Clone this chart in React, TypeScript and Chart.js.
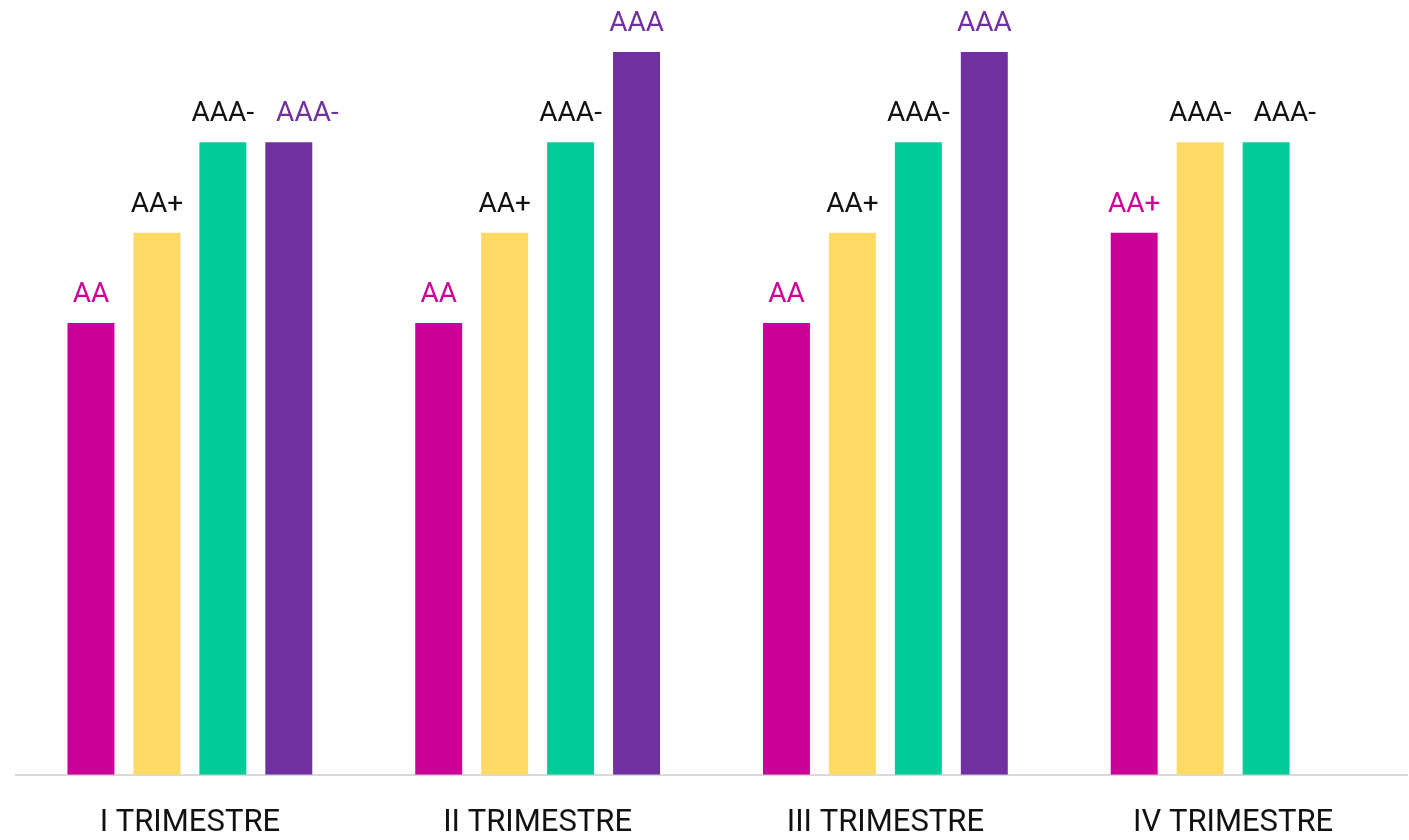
import React, { useEffect, useRef } from "react";
import { Chart, registerables } from "chart.js";

Chart.register(...registerables);

const categories = ["I TRIMESTRE", "II TRIMESTRE", "III TRIMESTRE", "IV TRIMESTRE"];
// rating scale: value -> label
const ratingValues = [5, 6, 7, 8];
const ratingLabels = ["AA", "AA+", "AAA-", "AAA"];

const seriesNames = ["Serie 1", "Serie 2", "Serie 3", "Serie 4"];
const series1 = [5, 5, 5, 6];
const series2 = [6, 6, 6, 7];
const series3 = [7, 7, 7, 7];
const series4 = [7, 8, 8, null];

const barColors = ["#CC0099", "#FFD966", "#00CC99", "#7030A0"];
const labelColors = ["#CC0099", "#111111", "#111111", "#7030A0"];

const FONT = "Roboto, 'Noto Sans', sans-serif";

function ratingOf(v: number | null): string {
  if (v === null || v === undefined) return "";
  const i = ratingValues.indexOf(v);
  return i >= 0 ? ratingLabels[i] : "";
}

const valueLabelPlugin = {
  id: "valueLabels",
  afterDatasetsDraw(chart: any) {
    const ctx = chart.ctx;
    ctx.save();
    ctx.font = `28px ${FONT}`;
    ctx.textAlign = "center";
    ctx.textBaseline = "alphabetic";
    const minGap = 22;
    const n = chart.data.labels.length;
    for (let i = 0; i < n; i++) {
      let prev: { y: number; right: number } | null = null;
      chart.data.datasets.forEach((ds: any, di: number) => {
        const v = ds.data[i];
        if (v === null || v === undefined) return;
        const bar = chart.getDatasetMeta(di).data[i];
        const text = ratingOf(v);
        const w = ctx.measureText(text).width;
        let x = bar.x;
        const y = bar.y - 21;
        if (prev && Math.abs(prev.y - y) < 2 && x - w / 2 < prev.right + minGap) {
          x = prev.right + minGap + w / 2;
        }
        ctx.fillStyle = labelColors[di];
        ctx.fillText(text, x, y);
        prev = { y, right: x + w / 2 };
      });
    }
    ctx.restore();
  },
};

export default function App() {
  const ref = useRef<HTMLCanvasElement>(null);
  useEffect(() => {
    if (!ref.current) return;
    const allSeries = [series1, series2, series3, series4];
    const chart = new Chart(ref.current, {
      type: "bar",
      data: {
        labels: categories,
        datasets: allSeries.map((d, i) => ({
          label: seriesNames[i],
          data: d,
          backgroundColor: barColors[i],
          borderWidth: 0,
          categoryPercentage: 0.7586,
          barPercentage: 0.712,
        })),
      },
      options: {
        animation: false,
        responsive: true,
        maintainAspectRatio: false,
        layout: { padding: { left: 16, right: 2, top: 52, bottom: -32 } },
        plugins: {
          legend: { display: false },
          tooltip: { enabled: false },
        },
        scales: {
          x: {
            grid: { display: false, drawTicks: false },
            border: { display: true, color: "#d9d9d9", width: 2 },
            ticks: {
              color: "#111111",
              font: { family: FONT, size: 31 },
              padding: 30,
            },
          },
          y: {
            display: false,
            min: 0,
            max: 8,
            grid: { display: false },
          },
        },
      },
      plugins: [valueLabelPlugin],
    });
    return () => chart.destroy();
  }, []);
  return (
    <div style={{ position: "absolute", left: 0, top: 0, width: 1409, height: 840, background: "#fff" }}>
      <canvas ref={ref} />
    </div>
  );
}
